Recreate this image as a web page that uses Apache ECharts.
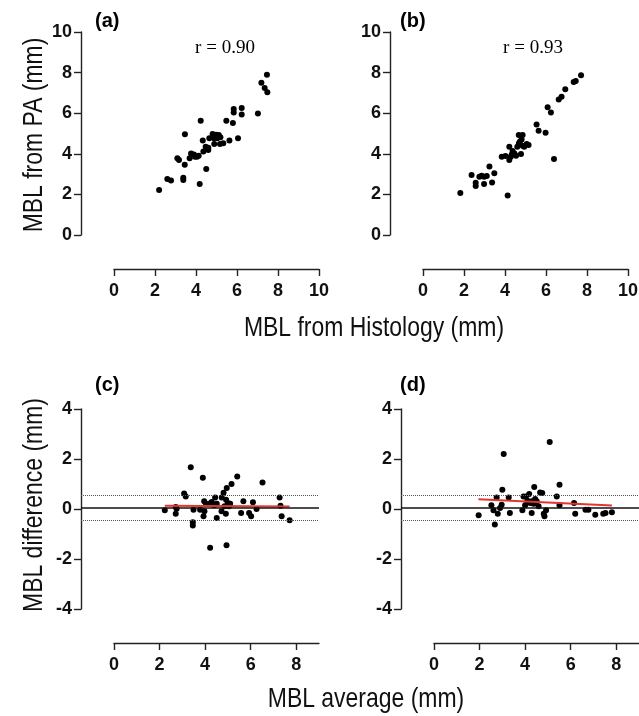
<!DOCTYPE html>
<html>
<head>
<meta charset="utf-8">
<script src="https://cdn.jsdelivr.net/npm/echarts@6/dist/echarts.min.js"></script>
<style>
html, body { margin: 0; padding: 0; background: #fff; }
#main { width: 639px; height: 716px; }
</style>
</head>
<body>
<div id="main"></div>
<script>
// (a) MBL from PA vs MBL from Histology, r = 0.90
var scatterA = [
  [2.20, 2.22], [2.60, 2.76], [2.78, 2.69], [3.38, 2.82], [3.38, 2.71], [3.46, 4.96],
  [3.45, 3.46], [3.09, 3.78], [3.17, 3.69], [3.69, 3.78], [3.76, 4.02], [3.90, 3.97],
  [3.95, 3.86], [4.05, 3.86], [4.13, 3.91], [4.18, 2.51], [4.23, 5.63], [4.33, 4.66],
  [4.36, 4.11], [4.50, 3.25], [4.47, 4.35], [4.60, 4.19], [4.65, 4.76], [4.81, 4.98],
  [4.89, 4.48], [4.98, 4.94], [5.04, 4.76], [5.11, 4.93], [5.17, 4.48], [5.19, 4.81],
  [5.33, 4.52], [5.48, 5.63], [5.63, 4.66], [5.80, 5.52], [5.84, 6.21], [5.84, 6.03],
  [6.05, 4.76], [6.23, 6.26], [6.23, 5.94], [7.02, 5.99], [7.19, 7.50], [7.35, 7.24],
  [7.46, 7.90], [7.48, 7.03], [4.89, 4.75], [4.60, 4.30]
];
// (b) r = 0.93
var scatterB = [
  [1.82, 2.07], [2.37, 2.96], [2.57, 2.58], [2.57, 2.41], [2.75, 2.87], [2.86, 2.92],
  [2.98, 2.51], [2.98, 2.87], [3.11, 2.91], [3.24, 3.37], [3.37, 2.59], [3.48, 3.04],
  [3.84, 3.86], [4.02, 3.89], [4.13, 1.95], [4.21, 4.35], [4.21, 3.69], [4.28, 3.86],
  [4.33, 3.97], [4.37, 4.14], [4.46, 4.02], [4.54, 3.91], [4.60, 4.35], [4.67, 4.93],
  [4.73, 4.60], [4.78, 3.99], [4.86, 4.93], [4.86, 4.40], [4.94, 4.35], [5.06, 4.48],
  [5.15, 4.43], [5.54, 5.44], [5.64, 5.14], [5.98, 5.04], [6.08, 6.29], [6.24, 6.03],
  [6.39, 3.74], [6.62, 6.68], [6.76, 6.81], [6.94, 7.18], [7.35, 7.54], [7.45, 7.59],
  [7.71, 7.87], [4.68, 4.52], [4.81, 4.71]
];
// (c) Bland-Altman: average vs difference
var scatterC = [
  [2.23, -0.05], [2.71, 0.08], [2.75, 0.01], [2.71, -0.19], [3.08, 0.62], [3.15, 0.50],
  [3.37, 1.67], [3.46, -0.53], [3.46, -0.66], [3.49, -0.03], [3.78, -0.03], [3.90, 1.25],
  [3.93, -0.29], [3.96, 0.31], [3.97, -0.09], [4.04, 0.21], [4.22, -1.55], [4.25, 0.24],
  [4.40, 0.15], [4.44, 0.46], [4.51, -0.36], [4.51, 0.21], [4.72, -0.09], [4.73, 0.46],
  [4.81, 0.65], [4.85, 0.11], [4.91, -0.19], [4.92, 0.37], [4.94, -1.45], [4.95, 0.84],
  [5.00, 0.24], [5.05, 0.11], [5.10, 0.21], [5.16, 1.00], [5.41, 1.30], [5.58, -0.16],
  [5.68, 0.31], [5.93, -0.16], [6.02, -0.29], [6.10, 0.27], [6.26, 0.00], [6.52, 1.06],
  [7.27, 0.46], [7.31, 0.13], [7.36, -0.29], [7.71, -0.45], [4.29, 0.28]
];
var trendC = [[2.23, 0.13], [7.71, 0.10]];
var limitsC = [0.04, 0.56, -0.46]; // bias, upper, lower

// (d)
var scatterD = [
  [1.96, -0.25], [2.52, 0.15], [2.61, -0.05], [2.67, -0.62], [2.75, 0.46], [2.80, -0.19],
  [2.90, 0.04], [2.97, 0.17], [3.00, 0.77], [3.06, 2.20], [3.28, 0.46], [3.33, -0.16],
  [3.88, -0.05], [3.93, 0.50], [4.00, 0.15], [4.04, 0.50], [4.10, 0.33], [4.18, 0.60],
  [4.22, 0.24], [4.29, -0.16], [4.37, 0.21], [4.40, 0.88], [4.44, 0.40], [4.51, 0.31],
  [4.59, 0.11], [4.66, 0.66], [4.75, 0.64], [4.82, -0.19], [4.85, -0.29], [4.92, -0.05],
  [5.08, 2.68], [5.39, 0.50], [5.51, 0.97], [5.51, 0.15], [6.15, 0.24], [6.20, -0.19],
  [6.65, -0.03], [6.78, -0.03], [7.08, -0.23], [7.43, -0.19], [7.53, -0.16], [7.81, -0.13],
  [4.28, 0.31]
];
var trendD = [[1.95, 0.39], [7.81, 0.14]];
var limitsD = [0.04, 0.56, -0.46];

var avgTicks = [0, 2, 4, 6, 8];
var panelLabels = ['(a)', '(b)', '(c)', '(d)'];
var rLabels = ['r = 0.90', 'r = 0.93'];
var axisTitles = ['MBL from Histology (mm)', 'MBL average (mm)', 'MBL from PA (mm)', 'MBL difference (mm)'];

var SANS = "'Liberation Sans', Arial, sans-serif";

var chart = echarts.init(document.getElementById('main'), null, { renderer: 'canvas' });

var axisLine = { show: true, onZero: false, lineStyle: { color: '#222', width: 1.4 } };
var tickStyle = { color: '#222', width: 1.4 };
function tickLabel(margin) {
  return { color: '#111', fontFamily: SANS, fontWeight: 'bold', fontSize: 18, margin: margin };
}

function xAx(grid, max, custom) {
  var ax = {
    type: 'value', gridIndex: grid, min: 0, max: max, interval: 2,
    offset: 34, axisLine: axisLine, splitLine: { show: false },
    axisTick: { show: true, length: 7, lineStyle: tickStyle },
    axisLabel: tickLabel(13)
  };
  if (custom) {
    ax.axisTick.customValues = custom;
    ax.axisLabel.customValues = custom;
  }
  return ax;
}
function yAx(grid, min, max) {
  return {
    type: 'value', gridIndex: grid, min: min, max: max, interval: 2,
    offset: 33, axisLine: axisLine, splitLine: { show: false },
    axisTick: { show: true, length: 7, lineStyle: tickStyle },
    axisLabel: tickLabel(9)
  };
}
// grids 4,5 only hold the horizontal reference lines (from y axis to the right end)
function refLines(lim, idx) {
  return {
    type: 'scatter', xAxisIndex: idx, yAxisIndex: idx, data: [], silent: true,
    markLine: {
      silent: true, symbol: 'none', label: { show: false }, animation: false,
      data: [
        { yAxis: lim[0], lineStyle: { color: '#111', width: 1.5, type: 'solid' } },
        { yAxis: lim[1], lineStyle: { color: '#555', width: 1, type: 'dotted' } },
        { yAxis: lim[2], lineStyle: { color: '#555', width: 1, type: 'dotted' } }
      ]
    }
  };
}
function dots(idx, data) {
  return { type: 'scatter', xAxisIndex: idx, yAxisIndex: idx, data: data,
    symbolSize: 6, itemStyle: { color: '#000', opacity: 1 } };
}
function trend(idx, data) {
  return { type: 'line', xAxisIndex: idx, yAxisIndex: idx, data: data, showSymbol: false,
    lineStyle: { color: '#e3342f', width: 2 } };
}
function txt(x, y, text, style, extra) {
  var el = { type: 'text', x: x, y: y,
    style: Object.assign({ text: text, fill: '#000', verticalAlign: 'middle' }, style) };
  return Object.assign(el, extra || {});
}
var labelStyle = { fontFamily: SANS, fontWeight: 'bold', fontSize: 20 };
var rStyle = { fontFamily: "'Liberation Serif', serif", fontSize: 19, align: 'center' };
var titleStyle = { fontFamily: SANS, fontSize: 28, fill: '#111', align: 'center' };

var option = {
  animation: false,
  backgroundColor: '#fff',
  grid: [
    { left: 114, top: 32, width: 205, height: 203, outerBoundsMode: 'none' },
    { left: 423, top: 32, width: 205, height: 203, outerBoundsMode: 'none' },
    { left: 114, top: 409, width: 205, height: 200, outerBoundsMode: 'none' },
    { left: 434, top: 409, width: 205, height: 200, outerBoundsMode: 'none' },
    { left: 81, top: 409, width: 238, height: 200, outerBoundsMode: 'none' },
    { left: 401, top: 409, width: 238, height: 200, outerBoundsMode: 'none' }
  ],
  xAxis: [
    xAx(0, 10), xAx(1, 10), xAx(2, 9, avgTicks), xAx(3, 9, avgTicks),
    { type: 'value', gridIndex: 4, min: 0, max: 1, show: false },
    { type: 'value', gridIndex: 5, min: 0, max: 1, show: false }
  ],
  yAxis: [
    yAx(0, 0, 10), yAx(1, 0, 10), yAx(2, -4, 4), yAx(3, -4, 4),
    { type: 'value', gridIndex: 4, min: -4, max: 4, show: false },
    { type: 'value', gridIndex: 5, min: -4, max: 4, show: false }
  ],
  series: [
    refLines(limitsC, 4),
    refLines(limitsD, 5),
    dots(0, scatterA),
    dots(1, scatterB),
    trend(2, trendC),
    trend(3, trendD),
    dots(2, scatterC),
    dots(3, scatterD)
  ],
  graphic: [
    txt(95, 21, panelLabels[0], labelStyle),
    txt(400, 21, panelLabels[1], labelStyle),
    txt(95, 385, panelLabels[2], labelStyle),
    txt(400, 385, panelLabels[3], labelStyle),
    txt(225, 48, rLabels[0], rStyle),
    txt(533, 48, rLabels[1], rStyle),
    txt(374, 328, axisTitles[0], titleStyle, { scaleX: 0.82 }),
    txt(366, 699, axisTitles[1], titleStyle, { scaleX: 0.82 }),
    txt(34, 135, axisTitles[2], titleStyle, { rotation: Math.PI / 2, scaleX: 0.82 }),
    txt(34, 505, axisTitles[3], titleStyle, { rotation: Math.PI / 2, scaleX: 0.82 })
  ]
};
chart.setOption(option);
</script>
</body>
</html>
